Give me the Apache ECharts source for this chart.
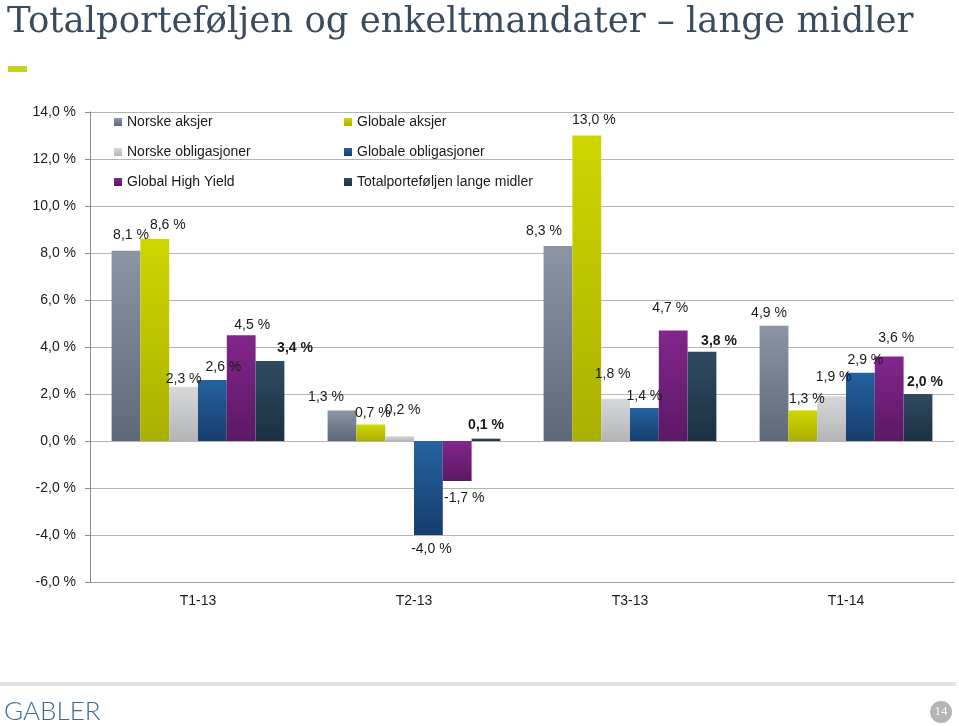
<!DOCTYPE html>
<html>
<head>
<meta charset="utf-8">
<script src="https://cdn.jsdelivr.net/npm/echarts@6/dist/echarts.min.js"></script>
<style>
html,body{margin:0;padding:0;background:#fff;}
#c{width:959px;height:726px;}
</style>
</head>
<body>
<div id="c"></div>
<script>
// ---- data ----
const categories = ['T1-13', 'T2-13', 'T3-13', 'T1-14'];
const seriesNames = ['Norske aksjer', 'Globale aksjer', 'Norske obligasjoner', 'Globale obligasjoner', 'Global High Yield', 'Totalporteføljen lange midler'];
const norskeAksjer = [8.1, 1.3, 8.3, 4.9];
const globaleAksjer = [8.6, 0.7, 13.0, 1.3];
const norskeObligasjoner = [2.3, 0.2, 1.8, 1.9];
const globaleObligasjoner = [2.6, -4.0, 1.4, 2.9];
const globalHighYield = [4.5, -1.7, 4.7, 3.6];
const totalportefoljen = [3.4, 0.1, 3.8, 2.0];
const yTicks = [-6, -4, -2, 0, 2, 4, 6, 8, 10, 12, 14];

// ---- styling (label nudges, colours) ----
const labelShift = [
  [[5, -9], [-16, -6], [-14, -8], [-5, -6]],
  [[13, -7], [2, -4], [7, -8], [4, -4]],
  [[0, -1], [3, -19], [-3, -18], [2, -12]],
  [[11, -6], [3, 7], [0, -5], [5, -6]],
  [[11, -3], [7, 10], [-3, -15], [7, -11]],
  [[25, -6], [0, -7], [17, -4], [7, -5]]
];
const colors = [
  ['#8b95a4', '#5d6878'],
  ['#ced600', '#aab000'],
  ['#d6d8da', '#b3b5b7'],
  ['#2462a1', '#163d6d'],
  ['#82268c', '#5b1864'],
  ['#2f4b61', '#1c3042']
];

const values = [norskeAksjer, globaleAksjer, norskeObligasjoner, globaleObligasjoner, globalHighYield, totalportefoljen];
const fmt = v => v.toFixed(1).replace('.', ',') + ' %';
const labelFont = "'Liberation Sans', Arial, sans-serif";

const series = seriesNames.map((name, si) => ({
  name: name,
  type: 'bar',
  barGap: '0%',
  barCategoryGap: '20%',
  itemStyle: {
    color: new echarts.graphic.LinearGradient(0, 0, 0, 1, [
      {offset: 0, color: colors[si][0]},
      {offset: 1, color: colors[si][1]}
    ])
  },
  label: {
    show: true,
    distance: 0,
    formatter: p => fmt(p.value),
    fontSize: 14,
    fontFamily: labelFont,
    color: '#1a1a1a',
    fontWeight: si === 5 ? 'bold' : 'normal'
  },
  data: values[si].map((v, i) => ({
    value: v,
    label: {position: v < 0 ? 'bottom' : 'top', offset: labelShift[si][i]}
  }))
}));

const chart = echarts.init(document.getElementById('c'), null, {renderer: 'canvas'});
const legendText = {fontSize: 14, fontFamily: labelFont, color: '#1a1a1a', lineHeight: 16};
chart.setOption({
  animation: false,
  backgroundColor: '#ffffff',
  grid: {left: 90, right: 5, top: 112, bottom: 144, containLabel: false},
  legend: [
    {data: [seriesNames[0], seriesNames[2], seriesNames[4]], orient: 'vertical', left: 114, top: 114,
     itemWidth: 8, itemHeight: 8, itemGap: 14, icon: 'rect', padding: 0, textStyle: legendText},
    {data: [seriesNames[1], seriesNames[3], seriesNames[5]], orient: 'vertical', left: 344, top: 114,
     itemWidth: 8, itemHeight: 8, itemGap: 14, icon: 'rect', padding: 0, textStyle: legendText}
  ],
  xAxis: {
    type: 'category',
    data: categories,
    position: 'bottom',
    axisLine: {onZero: false, show: true, lineStyle: {color: '#a0a0a0'}},
    axisTick: {show: false},
    axisLabel: {fontSize: 14, fontFamily: "'Liberation Sans Narrow', 'Arial Narrow', 'Liberation Sans', sans-serif", color: '#1a1a1a', margin: 12}
  },
  yAxis: {
    type: 'value',
    min: yTicks[0],
    max: yTicks[yTicks.length - 1],
    interval: 2,
    axisLine: {show: true, lineStyle: {color: '#8a8a8a'}},
    axisTick: {show: true, length: 5, lineStyle: {color: '#8a8a8a'}},
    splitLine: {show: true, lineStyle: {color: '#b4b4b4'}},
    axisLabel: {formatter: v => fmt(v), fontSize: 14, fontFamily: labelFont, color: '#1a1a1a', margin: 14}
  },
  series: series,
  graphic: [
    {type: 'text', left: 7, top: 5, style: {text: 'Totalporteføljen og enkeltmandater – lange midler', fontSize: 35.5, fontFamily: "'DejaVu Serif', serif", fill: '#3a4b5c'}},
    {type: 'rect', shape: {x: 8, y: 66, width: 19, height: 6}, style: {fill: '#c8d21e'}},
    {type: 'rect', shape: {x: 0, y: 682, width: 956, height: 4}, style: {fill: '#e2e2e2'}},
    {type: 'text', left: 4, top: 699, style: {text: 'GABLER', fontSize: 26, fontFamily: "Lato, 'Open Sans', sans-serif", fontWeight: 300, fill: '#3d6d93'}},
    {type: 'circle', shape: {cx: 941, cy: 712, r: 11}, style: {fill: '#b5b5b5'}},
    {type: 'text', x: 941, y: 712, style: {text: '14', fontSize: 13, fontFamily: "'Liberation Serif', serif", fill: '#ffffff', align: 'center', verticalAlign: 'middle'}}
  ]
});
</script>
</body>
</html>
